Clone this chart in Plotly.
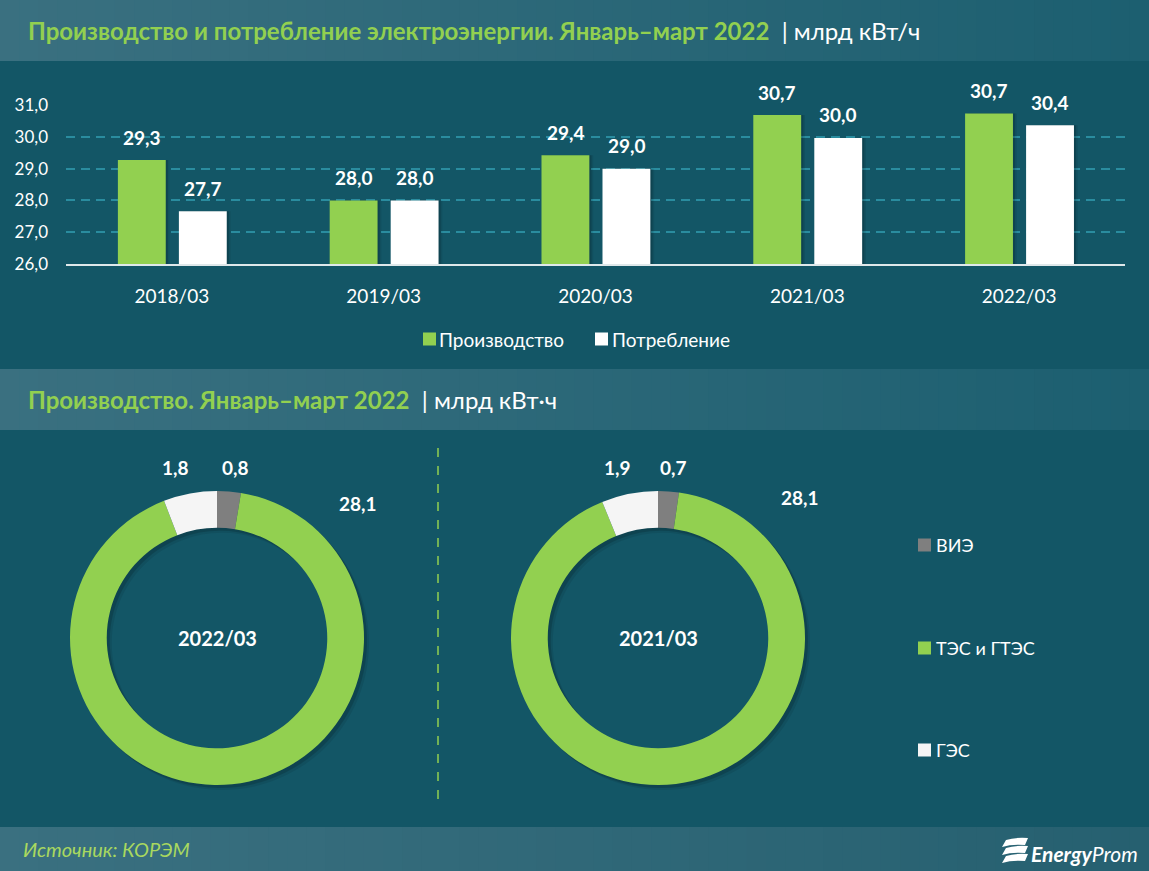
import plotly.graph_objects as go

W, H = 1149, 871
FONT = "Lato"
GREEN = "#92d050"
BG = "#135666"

# данные
periods = ["2018/03", "2019/03", "2020/03", "2021/03", "2022/03"]
production = [29.27, 28.0, 29.42, 30.69, 30.74]
consumption = [27.66, 28.0, 29.0, 29.97, 30.37]
y_ticks = [26, 27, 28, 29, 30, 31]

sources = ["ВИЭ", "ТЭС и ГТЭС", "ГЭС"]
source_colors = ["#7f7f7f", GREEN, "#f5f5f5"]
mix_2022 = [0.8, 28.1, 1.8]
mix_2021 = [0.7, 28.1, 1.9]


def px(x):
    return x / W


def py(y):
    return 1 - y / H


def comma(v):
    return f"{v:.1f}".replace(".", ",")


def band(y0, y1, left, right, steps=60):
    # в shapes нет градиента, поэтому полосами
    out = []
    for i in range(steps):
        t = i / (steps - 1)
        c = [round(a + (b - a) * t) for a, b in zip(left, right)]
        out.append(dict(type="rect", xref="paper", yref="paper", layer="below",
                        x0=i / steps, x1=(i + 1) / steps + 0.001, y0=py(y1), y1=py(y0),
                        fillcolor=f"rgb({c[0]},{c[1]},{c[2]})", line_width=0))
    return out


def note(x, y, text, size=18, color="white", anchor="center"):
    return dict(xref="paper", yref="paper", x=px(x), y=py(y), text=text, showarrow=False,
                xanchor=anchor, yanchor="middle", font=dict(family=FONT, size=size, color=color))


def swatch(x, y, color, size=13):
    return dict(type="rect", xref="paper", yref="paper", x0=px(x), x1=px(x + size),
                y0=py(y + size / 2), y1=py(y - size / 2), fillcolor=color, line_width=0)


fig = go.Figure()

# тени столбцов
for shift, alpha in [(0.018, 0.08), (0.01, 0.14)]:
    for vals, off in [(production, -0.255), (consumption, 0.033)]:
        fig.add_trace(go.Bar(x=periods, y=[v - 26 for v in vals], base=26, width=0.226, offset=off + shift,
                             marker=dict(color=f"rgba(0,0,0,{alpha})", line_width=0),
                             showlegend=False, hoverinfo="skip"))

fig.add_trace(go.Bar(x=periods, y=[v - 26 for v in production], base=26, width=0.226, offset=-0.255,
                     name="Производство", marker=dict(color=GREEN, line_width=0), showlegend=False))
fig.add_trace(go.Bar(x=periods, y=[v - 26 for v in consumption], base=26, width=0.226, offset=0.033,
                     name="Потребление", marker=dict(color="white", line_width=0), showlegend=False))

# тени колец
for vals, x0 in [(mix_2022, 70), (mix_2021, 511)]:
    for d, alpha in [(5, 0.08), (3, 0.14)]:
        fig.add_trace(go.Pie(values=vals, labels=sources, hole=0.75, sort=False, direction="clockwise",
                             domain=dict(x=[px(x0 + d), px(x0 + 294 + d)], y=[py(785 + d), py(491 + d)]),
                             marker=dict(colors=[f"rgba(0,0,0,{alpha})"] * 3, line_width=0),
                             textinfo="none", showlegend=False, hoverinfo="skip"))

for vals, x0 in [(mix_2022, 70), (mix_2021, 511)]:
    fig.add_trace(go.Pie(values=vals, labels=sources, hole=0.75, sort=False, direction="clockwise",
                         domain=dict(x=[px(x0), px(x0 + 294)], y=[py(785), py(491)]),
                         marker=dict(colors=source_colors, line_width=0),
                         textinfo="none", showlegend=False))

shapes = []
shapes += band(0, 61, (58, 112, 128), (28, 95, 112))
shapes += band(369, 430, (58, 112, 128), (28, 95, 112))
shapes += band(827, 871, (58, 112, 128), (38, 96, 112))
shapes.append(dict(type="line", xref="paper", yref="paper", x0=px(438), x1=px(438), y0=py(448), y1=py(806),
                   line=dict(color=GREEN, width=1.5, dash="dash")))
# знак логотипа
for y in (840, 848, 856):
    shapes.append(dict(type="path", xref="paper", yref="paper", fillcolor="white", line_width=0,
                       path=f"M {px(1006)} {py(y)} Q {px(1016)} {py(y - 3)} {px(1028)} {py(y - 2)} "
                            f"L {px(1025)} {py(y + 5)} Q {px(1012)} {py(y + 4)} {px(1002)} {py(y + 7)} Z"))

annotations = [
    note(26, 31, f"<b><span style='color:{GREEN}'>Производство и потребление электроэнергии. Январь–март 2022</span></b>"
                 " <span style='color:white'> | млрд кВт/ч</span>", size=24, anchor="left"),
    note(26, 400, f"<b><span style='color:{GREEN}'>Производство. Январь–март 2022</span></b>"
                  " <span style='color:white'> | млрд кВт·ч</span>", size=24, anchor="left"),
    note(21, 849, "<i>Источник: КОРЭМ</i>", size=20, color="#a9d85f", anchor="left"),
    note(1029, 853, "<b><i>Energy</i></b><i>Prom</i>", size=21, anchor="left"),
    note(217, 638, "<b>2022/03</b>", size=20),
    note(658, 638, "<b>2021/03</b>", size=20),
]

# легенды
for name, color, sx, tx in [("Производство", GREEN, 423, 437), ("Потребление", "white", 595, 610)]:
    shapes.append(swatch(sx, 339, color))
    annotations.append(note(tx, 339, name, size=19, anchor="left"))

for name, color, y in zip(sources, source_colors, [545, 648, 750]):
    shapes.append(swatch(918, y, color))
    annotations.append(note(934, y, name, size=18, anchor="left"))

# подписи столбцов
for i, p in enumerate(periods):
    annotations.append(dict(x=p, y=production[i], text=f"<b>{comma(production[i])}</b>", showarrow=False,
                            xshift=-30, yshift=23, yanchor="middle",
                            font=dict(family=FONT, size=19, color="white")))
    annotations.append(dict(x=p, y=consumption[i], text=f"<b>{comma(consumption[i])}</b>", showarrow=False,
                            xshift=31, yshift=23, yanchor="middle",
                            font=dict(family=FONT, size=19, color="white")))

# подписи колец: ВИЭ, ТЭС, ГЭС
for vals, spots in [(mix_2022, [(235, 467), (358, 503), (175, 467)]),
                    (mix_2021, [(673, 467), (800, 497), (617, 467)])]:
    for v, (x, y) in zip(vals, spots):
        annotations.append(note(x, y, f"<b>{comma(v)}</b>", size=19))

fig.update_layout(
    width=W, height=H, autosize=False,
    margin=dict(l=0, r=0, t=0, b=0, autoexpand=False),
    paper_bgcolor=BG, plot_bgcolor=BG,
    barmode="overlay",
    showlegend=False,
    font=dict(family=FONT, color="white", size=18),
    xaxis=dict(domain=[px(66), px(1125)], type="category", showgrid=False, ticks="",
               showline=True, linecolor="#dfe8ea", linewidth=2, automargin=False,
               tickfont=dict(size=19, color="white"), ticklabelstandoff=14, anchor="y"),
    yaxis=dict(domain=[py(264), py(105)], range=[26, 31.005], tickvals=y_ticks, tickformat=".1f",
               gridcolor="#2a8c9f", griddash="9px,6px", gridwidth=1.5, zeroline=False, automargin=False,
               tickfont=dict(size=17, color="white"), ticks="", ticklabelstandoff=17),
    separators=",.",
    shapes=shapes,
    annotations=annotations,
)

fig.write_html("out.html", config=dict(displayModeBar=False), post_script="document.body.style.margin='0'")
